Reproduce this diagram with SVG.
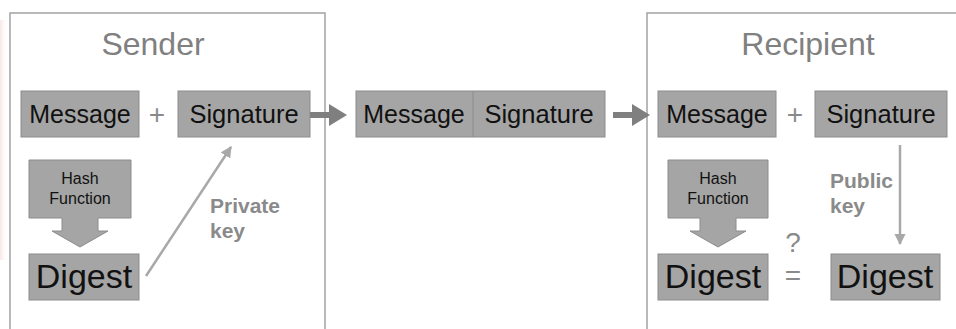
<svg xmlns="http://www.w3.org/2000/svg" width="956" height="329" viewBox="0 0 956 329">
  <defs>
    <style>
      .frame { fill: none; stroke: #a3a3a3; stroke-width: 1.5; }
      .box { fill: #a5a5a5; stroke: #8c8c8c; stroke-width: 1; }
      .t { font-family: "Liberation Sans", Arial, sans-serif; fill: #111; text-anchor: middle; }
      .title { font-family: "Liberation Sans", Arial, sans-serif; fill: #808080; text-anchor: middle; font-size: 32px; }
      .op { font-family: "Liberation Sans", Arial, sans-serif; fill: #8a8a8a; text-anchor: middle; font-size: 28px; }
      .key { font-family: "Liberation Sans", Arial, sans-serif; fill: #8a8a8a; font-weight: bold; font-size: 21px; }
      .big { fill: #7f7f7f; }
      .thin { stroke: #a8a8a8; stroke-width: 2.5; fill: none; }
    </style>
    <marker id="ah" viewBox="0 0 10 10" refX="9" refY="5" markerWidth="4.5" markerHeight="4.5" orient="auto" markerUnits="strokeWidth">
      <path d="M0,0 L10,5 L0,10 Z" fill="#a8a8a8"/>
    </marker>
    <linearGradient id="pink" x1="0" y1="0" x2="1" y2="0">
      <stop offset="0" stop-color="#f3d0d0" stop-opacity="0.5"/>
      <stop offset="1" stop-color="#ffffff" stop-opacity="0"/>
    </linearGradient>
  </defs>
  <rect width="956" height="329" fill="#ffffff"/>
  <rect x="0" y="20" width="8" height="240" fill="url(#pink)"/>

  <g id="sender">
    <rect class="frame" x="10" y="13" width="315" height="330"/>
    <text class="title" x="153" y="55">Sender</text>
  </g>
  <g id="recipient">
    <rect class="frame" x="647" y="13" width="320" height="330"/>
    <text class="title" x="808" y="55">Recipient</text>
  </g>

  <g id="s-message">
    <rect class="box" x="21" y="91" width="118" height="46"/>
    <text class="t" x="80" y="123" font-size="25">Message</text>
  </g>
  <text class="op" x="157" y="124">+</text>
  <g id="s-signature">
    <rect class="box" x="178" y="91" width="132" height="46"/>
    <text class="t" x="244" y="123" font-size="25.5">Signature</text>
  </g>
  <g id="s-hash">
    <path class="box" d="M29,160 H131 V218 H98 V231 H108 L80,247 L52,231 H62 V218 H29 Z"/>
    <text class="t" x="80" y="184" font-size="16">Hash</text>
    <text class="t" x="80" y="204" font-size="16">Function</text>
  </g>
  <g id="s-digest">
    <rect class="box" x="29" y="254" width="110" height="46"/>
    <text class="t" x="84" y="288" font-size="34">Digest</text>
  </g>
  <text class="key" x="210" y="213">Private</text>
  <text class="key" x="210" y="238">key</text>

  <g id="packet">
    <rect class="box" x="356" y="91" width="249" height="46"/>
    <line x1="473" y1="91" x2="473" y2="137" stroke="#8c8c8c" stroke-width="1"/>
    <text class="t" x="414" y="123" font-size="25">Message</text>
    <text class="t" x="539" y="123" font-size="25.5">Signature</text>
  </g>

  <g id="r-message">
    <rect class="box" x="658" y="91" width="118" height="46"/>
    <text class="t" x="717" y="123" font-size="25">Message</text>
  </g>
  <text class="op" x="795" y="124">+</text>
  <g id="r-signature">
    <rect class="box" x="815" y="91" width="132" height="46"/>
    <text class="t" x="881" y="123" font-size="25.5">Signature</text>
  </g>
  <g id="r-hash">
    <path class="box" d="M668,160 H768 V218 H736 V231 H746 L718,247 L690,231 H700 V218 H668 Z"/>
    <text class="t" x="718" y="184" font-size="16">Hash</text>
    <text class="t" x="718" y="204" font-size="16">Function</text>
  </g>
  <g id="r-digest">
    <rect class="box" x="658" y="254" width="110" height="46"/>
    <text class="t" x="713" y="288" font-size="34">Digest</text>
  </g>
  <g id="r-digest2">
    <rect class="box" x="831" y="254" width="109" height="46"/>
    <text class="t" x="885" y="288" font-size="34">Digest</text>
  </g>
  <text class="op" x="793" y="252" font-size="25">?</text>
  <text class="op" x="793" y="285" font-size="25">=</text>
  <text class="key" x="830" y="188">Public</text>
  <text class="key" x="830" y="213">key</text>

  <g id="connectors">
    <path class="big" d="M310,112 H329 V104 L347,115 L329,126 V118 H310 Z"/>
    <path class="big" d="M613,112 H632 V104 L650,115 L632,126 V118 H613 Z"/>
    <line class="thin" x1="146" y1="276" x2="231" y2="147" marker-end="url(#ah)"/>
    <line class="thin" x1="900" y1="145" x2="900" y2="244" marker-end="url(#ah)"/>
  </g>
</svg>
